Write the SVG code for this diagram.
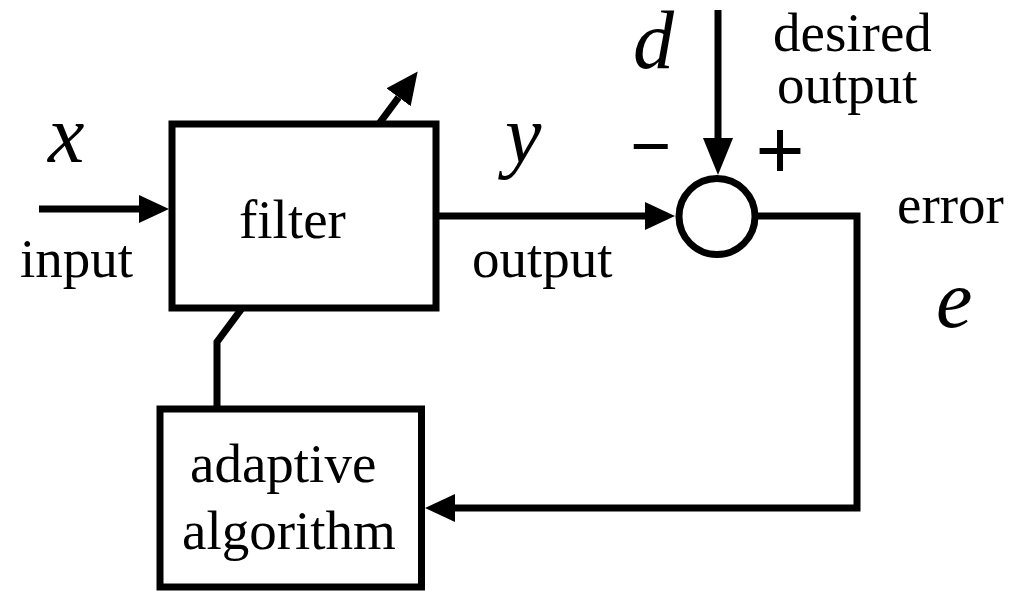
<svg xmlns="http://www.w3.org/2000/svg" width="1017" height="592" viewBox="0 0 1017 592">
<style>
.lbl{font-family:"Liberation Serif","Times New Roman",serif;font-size:55px;fill:#000}
.var{font-family:"Liberation Serif","Times New Roman",serif;font-style:italic;font-size:82px;fill:#000}
.sign{font-family:"Liberation Sans",Arial,sans-serif;fill:#000}
.box{fill:#fff;stroke:#000;stroke-width:7}
.wire{fill:none;stroke:#000;stroke-width:7;stroke-linejoin:miter}
</style>
<defs>
<marker id="ah" viewBox="0 0 30 28" refX="0" refY="14" markerWidth="30" markerHeight="28" markerUnits="userSpaceOnUse" orient="auto">
<path d="M0,0 L30,14 L0,28 z" fill="#000"/>
</marker>
<marker id="ahLong" viewBox="0 0 37 30" refX="0" refY="15" markerWidth="37" markerHeight="30" markerUnits="userSpaceOnUse" orient="auto">
<path d="M0,0 L37,15 L0,30 z" fill="#000"/>
</marker>
<marker id="ahTilt" viewBox="0 0 32 30" refX="0" refY="15" markerWidth="32" markerHeight="30" markerUnits="userSpaceOnUse" orient="auto">
<path d="M0,0 L32,15 L0,30 z" fill="#000"/>
</marker>
</defs>
<g id="connectors">
<path class="wire" d="M39,209 H139" marker-end="url(#ah)"/>
<path class="wire" d="M439,216 H645" marker-end="url(#ah)"/>
<path class="wire" d="M718,10 V138" marker-end="url(#ahLong)"/>
<path class="wire" d="M758,216 H857 V508 H455" marker-end="url(#ah)"/>
<path class="wire" d="M217,409 V342 L398.6,97.3" marker-end="url(#ahTilt)"/>
</g>
<g id="filter">
<rect class="box" x="172" y="124" width="264" height="184"/>
<text class="lbl" x="239" y="238">filter</text>
</g>
<g id="adaptive">
<rect class="box" x="160" y="409" width="261.5" height="178"/>
<text class="lbl" x="190" y="482">adaptive</text>
<text class="lbl" x="182" y="549">algorithm</text>
</g>
<g id="sum">
<circle class="box" cx="717" cy="216.5" r="38"/>
</g>
<g id="labels">
<text class="var" x="48" y="162">x</text>
<text class="lbl" x="20" y="277">input</text>
<text class="var" x="505" y="162">y</text>
<text class="lbl" x="472" y="277">output</text>
<text class="var" x="633" y="68" font-size="85">d</text>
<text class="lbl" x="773" y="51">desired</text>
<text class="lbl" x="777" y="103">output</text>
<text class="sign" x="651" y="170" font-size="70" text-anchor="middle">−</text>
<text class="sign" x="780" y="178" font-size="84" text-anchor="middle">+</text>
<text class="lbl" x="897" y="223">error</text>
<text class="var" x="936" y="327" font-size="86">e</text>
</g>
</svg>
